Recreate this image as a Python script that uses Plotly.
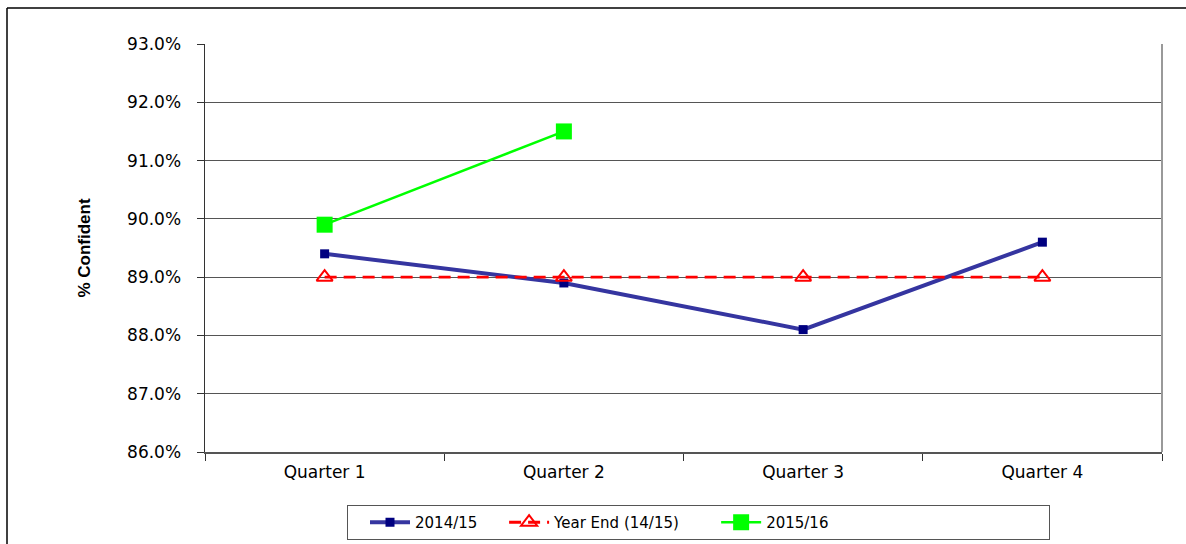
import plotly.graph_objects as go

quarters = ["Quarter 1", "Quarter 2", "Quarter 3", "Quarter 4"]
y_2014 = [89.4, 88.9, 88.1, 89.6]
y_yearend = [89.0, 89.0, 89.0, 89.0]
y_2015 = [89.9, 91.5, None, None]
y_ticks = [86, 87, 88, 89, 90, 91, 92, 93]
y_tick_labels = ["86.0%", "87.0%", "88.0%", "89.0%", "90.0%", "91.0%", "92.0%", "93.0%"]

W, H = 1186, 544
ML, MR, MT, MB = 205, 24, 44, 92
PW = W - ML - MR
PH = H - MT - MB

def px_x(p):
    return (p - ML) / PW

def px_y(p):
    return (H - MB - p) / PH

NB = "\u00a0"

fig = go.Figure()
fig.add_trace(go.Scatter(
    x=quarters, y=y_2014, name="2014/15" + NB * 1, mode="lines+markers",
    line=dict(color="#3535A0", width=4),
    marker=dict(symbol="square", size=9, color="#000080"),
))
fig.add_trace(go.Scatter(
    x=quarters, y=y_yearend, name="Year End (14/15)" + NB * 3, mode="lines+markers",
    line=dict(color="#FF0000", width=2.8, dash="12px,7px"),
    marker=dict(symbol="triangle-up-open", size=14, color="#FF0000",
                line=dict(color="#FF0000", width=2)),
))
fig.add_trace(go.Scatter(
    x=quarters, y=y_2015, name="2015/16" + NB * 45, mode="lines+markers",
    line=dict(color="#00FF00", width=2.5),
    marker=dict(symbol="square", size=16, color="#00FF00"),
))

shapes = [
    dict(type="line", xref="paper", yref="paper", x0=1, x1=1, y0=0, y1=1,
         line=dict(color="#999999", width=2)),
    dict(type="line", xref="paper", yref="paper", x0=px_x(7), x1=px_x(7),
         y0=px_y(8), y1=px_y(H), line=dict(color="#000000", width=1.5)),
    dict(type="line", xref="paper", yref="paper", x0=px_x(7), x1=px_x(W),
         y0=px_y(8), y1=px_y(8), line=dict(color="#000000", width=1.5)),
]

fig.update_layout(
    width=W, height=H,
    margin=dict(l=ML, r=MR, t=MT, b=MB, autoexpand=False),
    paper_bgcolor="white", plot_bgcolor="white",
    font=dict(family="DejaVu Sans", size=17, color="#000000"),
    hovermode=False,
    shapes=shapes,
    legend=dict(
        orientation="h", xanchor="left", yanchor="top",
        x=px_x(347), y=px_y(505),
        bordercolor="#555555", borderwidth=1,
        font=dict(family="DejaVu Sans", size=15),
        itemwidth=40, indentation=17,
        traceorder="normal",
    ),
    xaxis=dict(
        type="category", range=[-0.5, 3.5],
        showgrid=False, showline=True, linecolor="#555555", linewidth=1.5,
        ticks="outside", tickson="boundaries", ticklen=7, tickcolor="#333333",
        ticklabelstandoff=4,
        tickfont=dict(family="DejaVu Sans", size=17),
        fixedrange=True,
    ),
    yaxis=dict(
        range=[86, 93], tickvals=y_ticks, ticktext=y_tick_labels,
        showgrid=True, gridcolor="#555555", gridwidth=1,
        showline=True, linecolor="#333333", linewidth=1.5,
        ticks="outside", ticklen=7, tickcolor="#333333",
        ticklabelstandoff=12,
        tickfont=dict(family="DejaVu Sans", size=17),
        title=dict(text="<b>% Confident</b>", standoff=32,
                   font=dict(family="Liberation Sans", size=17)),
        zeroline=False, fixedrange=True,
    ),
)

fig.write_html("out.html", config={"displayModeBar": False, "staticPlot": True},
               post_script="document.body.style.margin='0px';document.body.style.overflow='hidden';")
